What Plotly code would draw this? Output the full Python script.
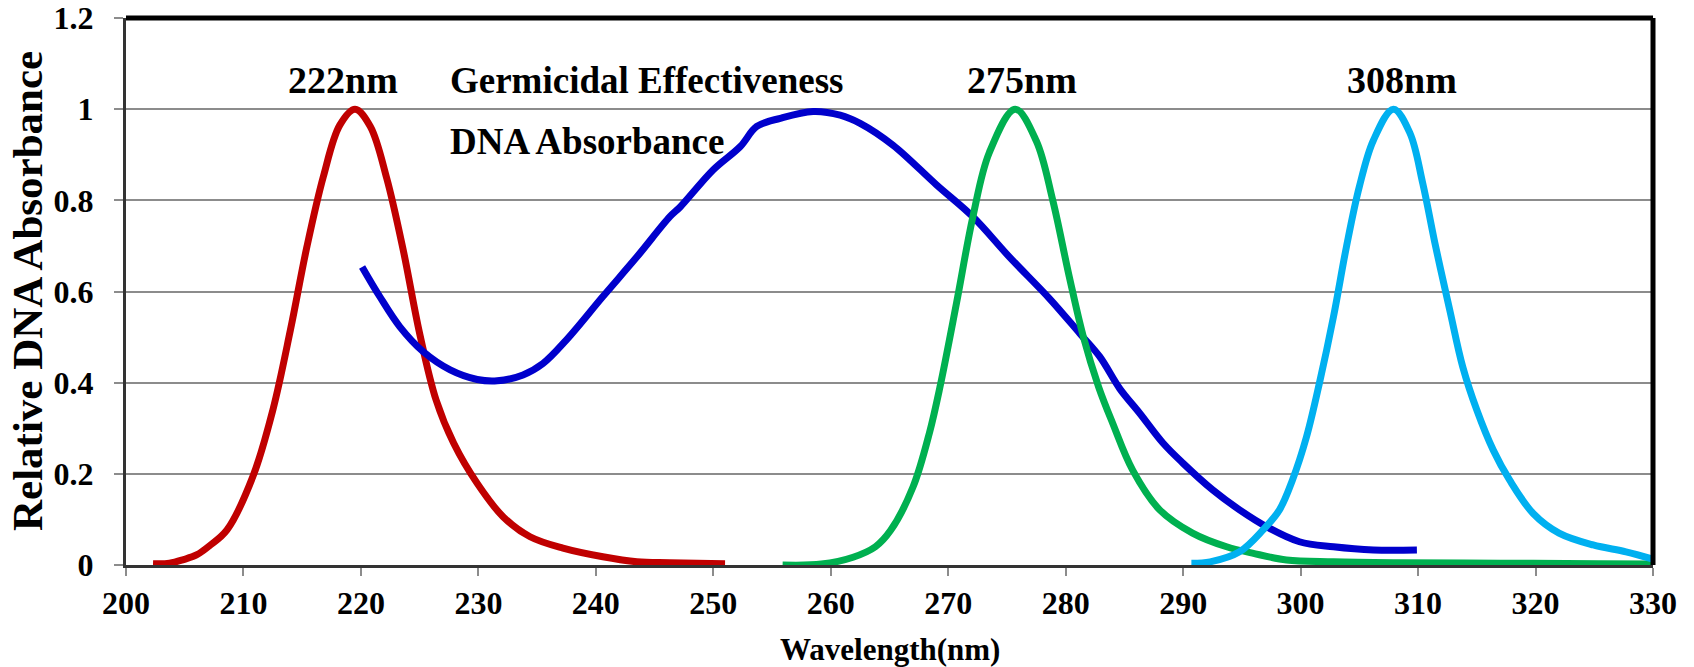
import plotly.graph_objects as go

# ---- data ----
red_x = [202.3, 203.7, 204.9, 206.0, 207.1, 208.6, 210.8, 212.5, 214.0, 215.4, 216.8, 218.2, 219.5,
         220.8, 222.2, 223.6, 225.0, 226.4, 227.9, 229.9, 232.1, 234.4, 237.2, 240.6, 243.5, 246.3, 251.0]
red_y = [0.003, 0.004, 0.012, 0.022, 0.042, 0.077, 0.194, 0.340, 0.516, 0.698, 0.852, 0.965, 1.0,
         0.962, 0.848, 0.691, 0.508, 0.362, 0.267, 0.179, 0.106, 0.062, 0.037, 0.018, 0.007, 0.005, 0.003]

blue_x = [220.1, 221.6, 223.3, 225.3, 227.6, 229.9, 231.6, 233.8, 235.5, 237.5, 240.6, 243.5, 246.3,
          247.2, 250.0, 252.3, 253.7, 255.7, 258.5, 260.8, 262.5, 265.3, 269.0, 272.1, 275.2, 278.6,
          281.2, 282.9, 284.6, 286.3, 288.3, 290.0, 292.5, 294.8, 297.1, 299.9, 302.8, 306.2, 309.9]
blue_y = [0.654, 0.589, 0.523, 0.468, 0.428, 0.407, 0.404, 0.417, 0.442, 0.494, 0.589, 0.676, 0.764,
          0.786, 0.867, 0.918, 0.962, 0.980, 0.995, 0.987, 0.969, 0.921, 0.834, 0.764, 0.676, 0.585,
          0.508, 0.457, 0.387, 0.333, 0.267, 0.223, 0.165, 0.121, 0.084, 0.051, 0.040, 0.033, 0.033]

green_x = [255.9, 259.2, 261.9, 263.8, 265.1, 267.0, 268.4, 269.3, 270.7, 272.1, 273.5, 275.7, 277.5,
           278.9, 280.3, 281.5, 282.8, 284.0, 285.7, 288.0, 290.8, 293.7, 295.9, 298.8, 302.8, 308.4,
           317.0, 325.4, 330.0]
green_y = [0.0, 0.002, 0.017, 0.040, 0.076, 0.171, 0.290, 0.391, 0.574, 0.764, 0.905, 1.0, 0.930,
           0.800, 0.633, 0.501, 0.391, 0.311, 0.208, 0.121, 0.070, 0.040, 0.026, 0.011, 0.007, 0.005,
           0.004, 0.003, 0.002]

cyan_x = [290.7, 292.3, 294.8, 296.8, 298.2, 299.3, 300.5, 301.6, 302.8, 303.9, 305.0, 306.2, 307.9,
          309.3, 310.4, 311.5, 312.7, 313.8, 315.0, 316.4, 317.8, 319.8, 322.0, 324.9, 327.7, 330.0]
cyan_y = [0.004, 0.007, 0.029, 0.077, 0.121, 0.186, 0.281, 0.399, 0.545, 0.698, 0.830, 0.932, 1.0,
          0.948, 0.837, 0.698, 0.559, 0.435, 0.340, 0.252, 0.186, 0.113, 0.070, 0.044, 0.029, 0.013]

x_ticks = [200, 210, 220, 230, 240, 250, 260, 270, 280, 290, 300, 310, 320, 330]
y_ticks = [0, 0.2, 0.4, 0.6, 0.8, 1.0, 1.2]
y_tick_text = ["0", "0.2", "0.4", "0.6", "0.8", "1", "1.2"]

peak_labels = ["222nm", "275nm", "308nm"]
peak_label_x = [218.5, 276.3, 308.6]

FONT = "Liberation Serif, Times New Roman, serif"

fig = go.Figure()
series = [
    (red_x, red_y, "#C00000"),
    (blue_x, blue_y, "#0000CC"),
    (green_x, green_y, "#00B050"),
    (cyan_x, cyan_y, "#00B0F0"),
]
for xs, ys, col in series:
    fig.add_trace(go.Scatter(x=xs, y=ys, mode="lines",
                             line=dict(color=col, width=7, shape="spline", smoothing=1.0),
                             showlegend=False, hoverinfo="skip"))

annotations = []
for txt, xv in zip(peak_labels, peak_label_x):
    annotations.append(dict(x=xv, y=1.064, xref="x", yref="y", text=txt, showarrow=False,
                            xanchor="center", yanchor="middle",
                            font=dict(family=FONT, size=38, color="black", weight="bold")))
annotations.append(dict(x=227.4, y=1.062, xref="x", yref="y", text="Germicidal Effectiveness",
                        showarrow=False, xanchor="left", yanchor="middle",
                        font=dict(family=FONT, size=37, color="black", weight="bold")))
annotations.append(dict(x=227.4, y=0.930, xref="x", yref="y", text="DNA Absorbance",
                        showarrow=False, xanchor="left", yanchor="middle",
                        font=dict(family=FONT, size=37, color="black", weight="bold")))
# axis titles
annotations.append(dict(x=-0.0645, y=0.5, xref="paper", yref="paper", text="Relative DNA Absorbance",
                        showarrow=False, textangle=-90, xanchor="center", yanchor="middle",
                        font=dict(family=FONT, size=43, color="black", weight="bold")))
annotations.append(dict(x=0.5, y=-0.1536, xref="paper", yref="paper", text="Wavelength(nm)",
                        showarrow=False, xanchor="center", yanchor="middle",
                        font=dict(family=FONT, size=31, color="black", weight="bold")))

fig.update_layout(
    width=1694, height=667,
    margin=dict(l=126, r=41, t=18, b=102, autoexpand=False),
    paper_bgcolor="white", plot_bgcolor="white",
    annotations=annotations,
    shapes=[
        dict(type="line", xref="paper", yref="paper", x0=0, x1=1, y0=1, y1=1,
             line=dict(color="black", width=5)),
        dict(type="line", xref="paper", yref="paper", x0=1, x1=1, y0=0, y1=1,
             line=dict(color="black", width=5)),
    ],
)
fig.update_xaxes(range=[200, 330], tickmode="array", tickvals=x_ticks,
                 showgrid=False, zeroline=False, automargin=False,
                 showline=True, linecolor="#333333", linewidth=3,
                 ticks="outside", ticklen=8, tickwidth=2, tickcolor="#8c8c8c",
                 tickfont=dict(family=FONT, size=32, color="black", weight="bold"))
fig.update_yaxes(range=[0, 1.2], tickmode="array", tickvals=y_ticks, ticktext=y_tick_text,
                 showgrid=True, gridcolor="#8c8c8c", gridwidth=2, zeroline=False, automargin=False,
                 showline=True, linecolor="#333333", linewidth=3,
                 ticks="outside", ticklen=9, tickwidth=2, tickcolor="#8c8c8c",
                 ticklabelstandoff=14,
                 tickfont=dict(family=FONT, size=32, color="black", weight="bold"))

fig.write_html("out.html")
